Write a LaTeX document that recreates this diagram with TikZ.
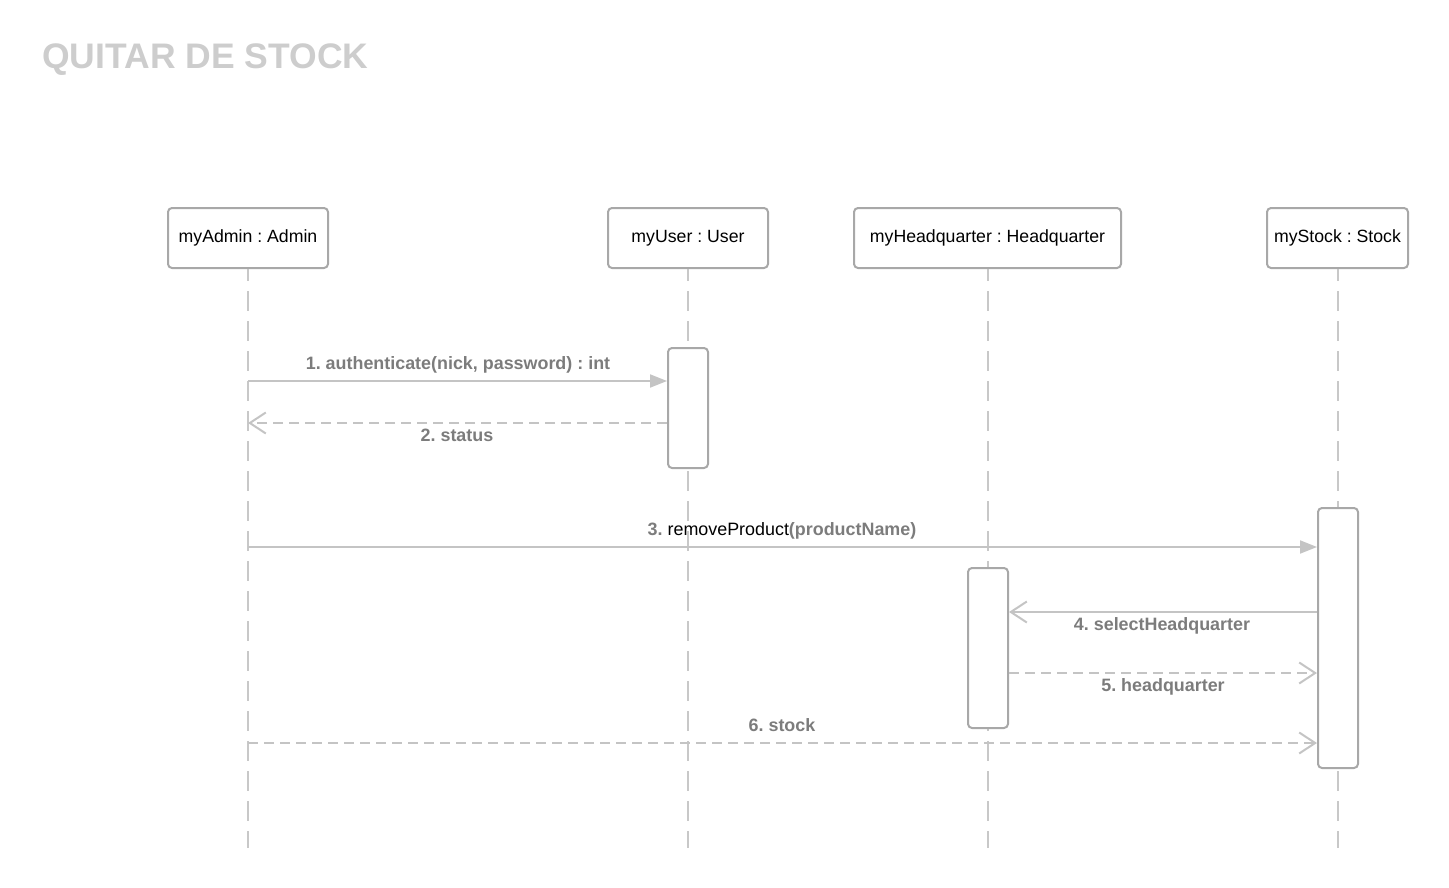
\documentclass[tikz,border=0pt]{standalone}
\usepackage{fontspec}
\setmainfont{Liberation Sans}
\usetikzlibrary{arrows.meta}
\frenchspacing
\definecolor{boxline}{HTML}{A8A8A8}
\definecolor{lifecol}{HTML}{C8C8C8}
\definecolor{msgcol}{HTML}{C4C4C4}
\definecolor{labcol}{HTML}{7C7C7C}
\definecolor{titlecol}{HTML}{CDCDCD}
\tikzset{
  headbox/.style={draw=boxline, line width=2pt, rounded corners=4pt, fill=white,
    minimum height=60pt, inner sep=0pt, font=\fontsize{17.7}{21}\selectfont\frenchspacing, text=black},
  actbox/.style={draw=boxline, line width=2pt, rounded corners=4pt, fill=white,
    minimum width=40pt, inner sep=0pt},
  lifeline/.style={draw=lifecol, line width=2pt, dash pattern=on 20pt off 10pt, dash phase=8pt},
  msg/.style={draw=msgcol, line width=2pt, -{Triangle[length=17pt,width=13pt,fill=msgcol]}},
  reply/.style={draw=msgcol, line width=2pt, dash pattern=on 10pt off 6pt, -{Straight Barb[length=16pt,width=21pt,line width=2pt]}},
  openmsg/.style={draw=msgcol, line width=2pt, -{Straight Barb[length=16pt,width=21pt,line width=2pt]}},
  lab/.style={font=\fontsize{17.9}{21}\selectfont\bfseries\frenchspacing, text=labcol, inner sep=0pt, anchor=base},
}
\begin{document}
\begin{tikzpicture}[x=1pt,y=-1pt]
\useasboundingbox (0,0) rectangle (1449,888);
\node[anchor=base west, inner sep=0pt, font=\fontsize{35.5}{40}\selectfont\bfseries, text=titlecol] (title) at (42,69) {QUITAR DE STOCK};

% heads
\node[headbox, minimum width=160pt] (admin) at (248,238) {myAdmin : Admin};
\node[headbox, minimum width=160pt] (user) at (688,238) {myUser : User};
\node[headbox, minimum width=267pt] (hq) at (987.5,238) {myHeadquarter : Headquarter};
\node[headbox, minimum width=141pt] (stock) at (1337.5,238) {myStock : Stock};

% lifeline ends
\coordinate (adminEnd) at (248,848);
\coordinate (userEnd) at (688,848);
\coordinate (hqEnd) at (988,848);
\coordinate (stockEnd) at (1338,848);
\draw[lifeline] (admin.south) -- (adminEnd);
\draw[lifeline] (user.south) -- (userEnd);
\draw[lifeline] ([xshift=0.5pt]hq.south) -- (hqEnd);
\draw[lifeline] ([xshift=0.5pt]stock.south) -- (stockEnd);

% activations
\node[actbox, minimum height=120pt] (uact) at (688,408) {};
\node[actbox, minimum height=260pt] (sact) at (1338,638) {};
\node[actbox, minimum height=160pt] (hact) at (988,648) {};

% message rows
\coordinate (m1) at (0,381);
\coordinate (m2) at (0,423);
\coordinate (m3) at (0,547);
\coordinate (m4) at (0,612);
\coordinate (m5) at (0,673);
\coordinate (m6) at (0,743);

\draw[msg] (admin |- m1) -- (uact.west |- m1);
\node[lab] (l1) at (458,369) {1. authenticate(nick, password) : int};

\draw[reply] (uact.west |- m2) -- (admin |- m2);
\node[lab] (l2) at (457,441) {2. status};

\draw[msg] (admin |- m3) -- (sact.west |- m3);
\node[lab] (l3) at (782,535) {3. {\mdseries\color{black}removeProduct}(productName)};

\draw[openmsg] (sact.west |- m4) -- (hact.east |- m4);
\node[lab] (l4) at (1162,630) {4. selectHeadquarter};

\draw[reply] (hact.east |- m5) -- (sact.west |- m5);
\node[lab] (l5) at (1163,691) {5. headquarter};

\draw[reply] (admin |- m6) -- (sact.west |- m6);
\node[lab] (l6) at (782,731) {6. stock};
\end{tikzpicture}
\end{document}
